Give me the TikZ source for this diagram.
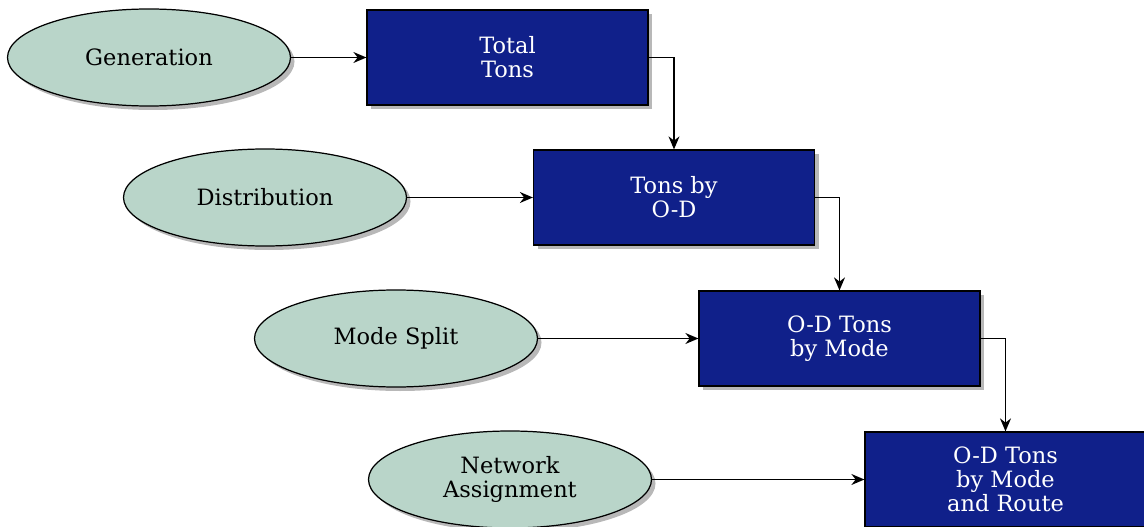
\documentclass[tikz,border=0pt]{standalone}
\usepackage{fontspec}
\setmainfont{DejaVu Serif}
\usetikzlibrary{arrows.meta, shapes.geometric, shadows}
\definecolor{StepBlue}{HTML}{10208A}
\definecolor{StepSage}{HTML}{B9D5C9}
\tikzset{
	stage/.style={draw=black, line width=0.7pt, fill=StepBlue, text=white, minimum width=5.62cm, minimum height=1.9cm, align=center, drop shadow={shadow xshift=0.08cm, shadow yshift=-0.08cm, fill=gray!70, opacity=0.8}},
	model/.style={ellipse, draw=black, line width=0.7pt, fill=StepSage, minimum width=5.66cm, minimum height=1.94cm, align=center, drop shadow={shadow xshift=0.08cm, shadow yshift=-0.08cm, fill=gray!70, opacity=0.8}},
	flow/.style={-{Stealth[length=2.6mm, width=2.2mm]}, line width=0.8pt, black}
}

\begin{document}
\begin{tikzpicture}[font=\fontsize{12.8}{13.6}\selectfont]
		\useasboundingbox (0, 0) rectangle (22.88, -10.54);
		% The four steps of the model
		\node [model] (gen) at (2.98, -1.15) {Generation};
		\node [model] (dis) at (5.30, -3.95) {Distribution};
		\node [model] (msp) at (7.92, -6.77) {Mode Split};
		\node [model] (net) at (10.20, -9.59) {Network\\Assignment};
		% The tonnage produced by each step
		\node [stage] (tot) at (10.15, -1.15) {Total\\Tons};
		\node [stage] (tod) at (13.48, -3.95) {Tons by\\O-D};
		\node [stage] (odm) at (16.79, -6.77) {O-D Tons\\by Mode};
		\node [stage] (odr) at (20.11, -9.59) {O-D Tons\\by Mode\\and Route};
		% Arrows from each step to its result
		\draw [flow] (gen) -- (tot);
		\draw [flow] (dis) -- (tod);
		\draw [flow] (msp) -- (odm);
		\draw [flow] (net) -- (odr);
		% Arrows passing each result down to the next one
		\draw [flow] (tot.east) -| (tod.north);
		\draw [flow] (tod.east) -| (odm.north);
		\draw [flow] (odm.east) -| (odr.north);
	\end{tikzpicture}
\end{document}
